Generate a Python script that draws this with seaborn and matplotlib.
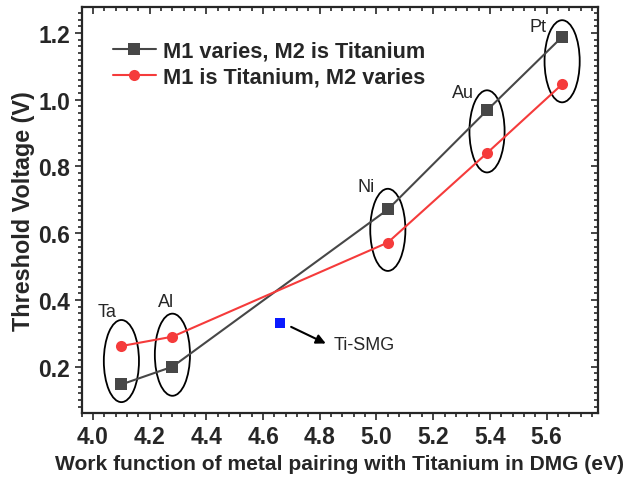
import numpy as np
import pandas as pd
import matplotlib.pyplot as plt
import seaborn as sns
from matplotlib.patches import Ellipse
from matplotlib.ticker import MultipleLocator

# ================= DATOS =================
metales = ['Ta', 'Al', 'Ni', 'Au', 'Pt']
work_function = [4.10, 4.28, 5.04, 5.39, 5.655]
vth_m1_varia = [0.147, 0.200, 0.671, 0.968, 1.188]   # M1 varies, M2 is Titanium
vth_m2_varia = [0.262, 0.290, 0.572, 0.840, 1.046]   # M1 is Titanium, M2 varies
ti_smg_wf = [4.66]
ti_smg_vth = [0.330]

# centro de las elipses (y) y posición de etiquetas
elipse_y = [0.217, 0.236, 0.610, 0.905, 1.115]
etiqueta_xy = [(4.048, 0.365), (4.257, 0.395), (4.965, 0.740), (5.306, 1.020), (5.570, 1.219)]

df = pd.DataFrame({
    'wf': work_function * 2,
    'vth': vth_m1_varia + vth_m2_varia,
    'serie': ['M1 varies, M2 is Titanium'] * 5 + ['M1 is Titanium, M2 varies'] * 5,
})

# ================= GRÁFICO =================
sns.set_style("ticks")
plt.rcParams['font.family'] = ['Liberation Sans', 'DejaVu Sans']

fig = plt.figure(figsize=(6.31, 4.81), dpi=100)
ax = fig.add_axes([0.1295, 0.139, 0.8175, 0.844])

colores = {'M1 varies, M2 is Titanium': '#474747', 'M1 is Titanium, M2 varies': '#f53b3b'}
sns.lineplot(data=df, x='wf', y='vth', hue='serie', style='serie',
             markers={'M1 varies, M2 is Titanium': 's', 'M1 is Titanium, M2 varies': 'o'},
             dashes=False, palette=colores, linewidth=1.5, markersize=8,
             markeredgewidth=0, ax=ax)

sns.scatterplot(x=ti_smg_wf, y=ti_smg_vth, marker='s', color='#0a1aff', s=45,
                linewidth=0, ax=ax, legend=False)
ax.annotate('', xy=(4.83, 0.266), xytext=(4.69, 0.323),
            arrowprops=dict(arrowstyle='-|>', color='black', lw=1.5, mutation_scale=14))
ax.text(4.85, 0.267, 'Ti-SMG', fontsize=13, va='center', ha='left')

for x, yc, nombre, (tx, ty) in zip(work_function, elipse_y, metales, etiqueta_xy):
    ax.add_patch(Ellipse((x, yc), 0.124, 0.246, fill=False, edgecolor='black', lw=1.3))
    ax.text(tx, ty, nombre, fontsize=13, ha='center', va='center')

ax.set_xlim(3.96, 5.78)
ax.set_ylim(0.061, 1.277)
ax.xaxis.set_major_locator(MultipleLocator(0.2))
ax.xaxis.set_minor_locator(MultipleLocator(0.04))
ax.yaxis.set_major_locator(MultipleLocator(0.2))
ax.yaxis.set_minor_locator(MultipleLocator(0.02))
ax.tick_params(which='both', top=True, right=True, width=1.2, direction='out')
ax.tick_params(which='major', length=5, labelsize=16.5)
ax.tick_params(which='minor', length=3)
for t in ax.get_xticklabels() + ax.get_yticklabels():
    t.set_fontweight('bold')
# ticks de arriba y derecha hacia dentro
for tick in ax.xaxis.get_major_ticks() + ax.xaxis.get_minor_ticks():
    tick.tick2line.set_marker(3)
for tick in ax.yaxis.get_major_ticks() + ax.yaxis.get_minor_ticks():
    tick.tick2line.set_marker(0)

for s in ax.spines.values():
    s.set_linewidth(1.6)

ax.set_xlabel('Work function of metal pairing with Titanium in DMG (eV)', fontsize=15.1,
              fontweight='bold', labelpad=4)
ax.set_ylabel('Threshold Voltage (V)', fontsize=16.8, fontweight='bold', labelpad=2)

ax.legend(loc='upper left', bbox_to_anchor=(0.06, 0.917), frameon=False,
          prop={'weight': 'bold', 'size': 15.7}, handlelength=2.0, handletextpad=0.3,
          labelspacing=0.2, borderpad=0, borderaxespad=0)

plt.savefig('out.png', dpi=100)
